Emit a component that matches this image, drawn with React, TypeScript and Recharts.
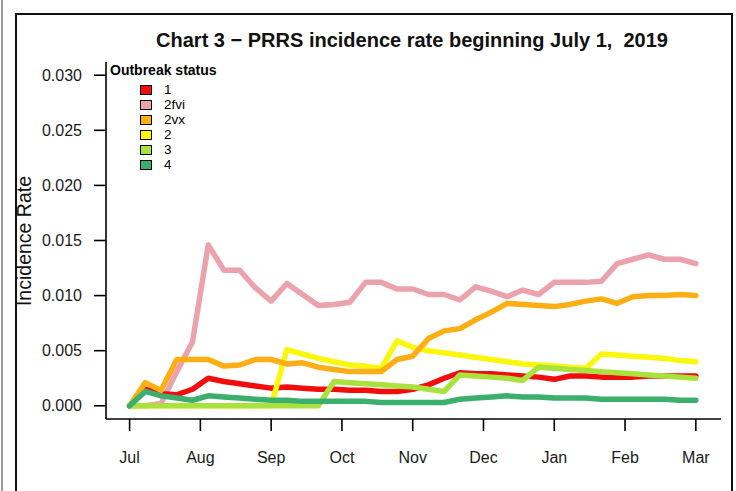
import { Line, LineChart, XAxis, YAxis } from "recharts";

// x is the index of each reporting period (37 of them, Jul 1 2019 -> Mar 2020)
const monthLabels = ["Jul", "Aug", "Sep", "Oct", "Nov", "Dec", "Jan", "Feb", "Mar"];
const monthTicks = [0, 4.5, 9, 13.5, 18, 22.5, 27, 31.5, 36];
const rateTicks = [0, 0.005, 0.01, 0.015, 0.02, 0.025, 0.03];

const status1 = [
  0, 0.0015, 0.0011, 0.001, 0.0015, 0.0025, 0.0022, 0.002, 0.0018, 0.0016, 0.0017, 0.0016, 0.0015,
  0.0015, 0.0014, 0.0014, 0.0013, 0.0013, 0.0015, 0.0019, 0.0025, 0.003, 0.0029, 0.0029, 0.0028,
  0.0027, 0.0026, 0.0024, 0.0027, 0.0027, 0.0026, 0.0026, 0.0026, 0.0027, 0.0027, 0.0027, 0.0027,
];
const status2fvi = [
  0, 0, 0.0002, 0.0031, 0.0058, 0.0146, 0.0123, 0.0123, 0.0107, 0.0095, 0.0111, 0.0101, 0.0091,
  0.0092, 0.0094, 0.0112, 0.0112, 0.0106, 0.0106, 0.0101, 0.0101, 0.0096, 0.0108, 0.0104, 0.0099,
  0.0105, 0.0101, 0.0112, 0.0112, 0.0112, 0.0113, 0.0129, 0.0133, 0.0137, 0.0133, 0.0133, 0.0129,
];
const status2vx = [
  0, 0.0021, 0.0014, 0.0042, 0.0042, 0.0042, 0.0036, 0.0037, 0.0042, 0.0042, 0.0038, 0.0039, 0.0035,
  0.0033, 0.0031, 0.0031, 0.0031, 0.0042, 0.0045, 0.0061, 0.0068, 0.007, 0.0078, 0.0085, 0.0093,
  0.0092, 0.0091, 0.009, 0.0092, 0.0095, 0.0097, 0.0093, 0.0099, 0.01, 0.01, 0.0101, 0.01,
];
const status2 = [
  0, 0, 0, 0, 0, 0, 0, 0, 0, 0, 0.0051, 0.0047, 0.0043, 0.004, 0.0037, 0.0036, 0.0034, 0.0059,
  0.0053, 0.005, 0.0048, 0.0046, 0.0044, 0.0042, 0.004, 0.0038, 0.0037, 0.0036, 0.0035, 0.0034,
  0.0047, 0.0046, 0.0045, 0.0044, 0.0043, 0.0041, 0.004,
];
const status3 = [
  0, 0, 0, 0, 0, 0, 0, 0, 0, 0, 0, 0, 0, 0.0022, 0.0021, 0.002, 0.0019, 0.0018, 0.0017, 0.0015,
  0.0013, 0.0028, 0.0027, 0.0026, 0.0025, 0.0023, 0.0035, 0.0034, 0.0033, 0.0032, 0.0031, 0.003,
  0.0029, 0.0028, 0.0027, 0.0026, 0.0025,
];
const status4 = [
  0, 0.0013, 0.0009, 0.0007, 0.0005, 0.0009, 0.0008, 0.0007, 0.0006, 0.0005, 0.0005, 0.0004, 0.0004,
  0.0004, 0.0004, 0.0004, 0.0003, 0.0003, 0.0003, 0.0003, 0.0003, 0.0006, 0.0007, 0.0008, 0.0009,
  0.0008, 0.0008, 0.0007, 0.0007, 0.0007, 0.0006, 0.0006, 0.0006, 0.0006, 0.0006, 0.0005, 0.0005,
];

const legendNames = ["1", "2fvi", "2vx", "2", "3", "4"];
const legendKeys = ["s1", "s2fvi", "s2vx", "s2", "s3", "s4"];
const legendColors = ["#f20d0d", "#eba2ad", "#fcae14", "#fbf70c", "#a9e23c", "#3bb06e"];

const rows = status1.map((_, i) => ({
  i,
  s1: status1[i],
  s2fvi: status2fvi[i],
  s2vx: status2vx[i],
  s2: status2[i],
  s3: status3[i],
  s4: status4[i],
}));

// draw order (what ends up on top) differs from the legend order
const drawOrder = [1, 0, 3, 2, 4, 5];

const font = "'Liberation Sans', Arial, sans-serif";

function OutbreakLegend() {
  return (
    <div style={{ position: "absolute", left: 110, top: 62, fontFamily: font, color: "#000" }}>
      <div style={{ fontWeight: "bold", fontSize: 14, lineHeight: "16px", marginBottom: 4 }}>
        Outbreak status
      </div>
      {legendNames.map((name, k) => (
        <div key={name} style={{ display: "flex", alignItems: "center", height: 15, paddingLeft: 30 }}>
          <span
            style={{
              display: "inline-block",
              width: 10,
              height: 8,
              background: legendColors[k],
              border: "1.5px solid #000",
              marginRight: 12,
            }}
          />
          <span style={{ fontSize: 13.5, lineHeight: "15px" }}>{name}</span>
        </div>
      ))}
    </div>
  );
}

export default function App() {
  return (
    <div style={{ position: "absolute", left: 0, top: 0, width: 736, height: 491, background: "#fff", overflow: "hidden" }}>
      <div style={{ position: "absolute", left: 1, top: 0, width: 0, height: 491, borderLeft: "2px solid #9a9a9a" }} />
      <div
        style={{
          position: "absolute",
          left: 15,
          top: 13,
          width: 718,
          height: 520,
          border: "2px solid #111",
          boxSizing: "border-box",
        }}
      />
      <LineChart
        width={736}
        height={491}
        data={rows}
        margin={{ top: 62, right: 15, bottom: 0, left: 0 }}
        style={{ position: "absolute", left: 0, top: 0 }}
      >
        <XAxis
          dataKey="i"
          type="number"
          domain={[-1.5, 37.6]}
          ticks={monthTicks}
          allowDataOverflow
          tickFormatter={(v: number) => monthLabels[monthTicks.indexOf(v)] ?? ""}
          tickSize={12}
          tickMargin={21}
          axisLine={{ stroke: "#000", strokeWidth: 1.6 }}
          tickLine={{ stroke: "#000", strokeWidth: 1.6 }}
          tick={{ fontSize: 16, fill: "#1a1a1a", fontFamily: font }}
          height={72}
          interval={0}
        />
        <YAxis
          type="number"
          domain={[-0.0012, 0.0312]}
          ticks={rateTicks}
          allowDataOverflow
          tickFormatter={(v: number) => v.toFixed(3)}
          tickSize={12}
          tickMargin={12}
          axisLine={{ stroke: "#000", strokeWidth: 1.6 }}
          tickLine={{ stroke: "#000", strokeWidth: 1.6 }}
          tick={{ fontSize: 16, fill: "#1a1a1a", fontFamily: font }}
          width={106}
          interval={0}
        />
        {drawOrder.map((k) => (
          <Line
            key={legendKeys[k]}
            dataKey={legendKeys[k]}
            name={legendNames[k]}
            type="linear"
            stroke={legendColors[k]}
            strokeWidth={5.5}
            strokeLinejoin="round"
            strokeLinecap="round"
            dot={false}
            activeDot={false}
            isAnimationActive={false}
          />
        ))}
      </LineChart>
      <OutbreakLegend />
      <div
        style={{
          position: "absolute",
          left: 412,
          top: 40,
          transform: "translate(-50%, -50%)",
          fontFamily: font,
          fontWeight: "bold",
          fontSize: 20,
          whiteSpace: "pre",
          color: "#111",
        }}
      >
        {"Chart 3 \u2212 PRRS incidence rate beginning July 1,  2019"}
      </div>
      <div
        style={{
          position: "absolute",
          left: 24,
          top: 241,
          transform: "translate(-50%, -50%) rotate(-90deg)",
          fontFamily: font,
          fontSize: 19.5,
          whiteSpace: "pre",
          color: "#111",
        }}
      >
        Incidence Rate
      </div>
    </div>
  );
}
